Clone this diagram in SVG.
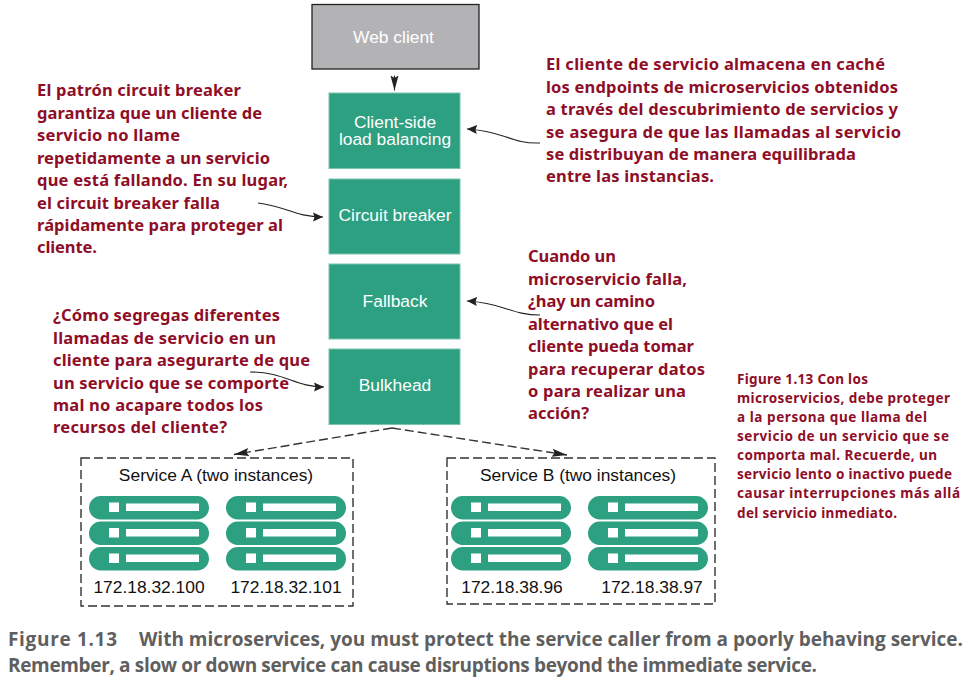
<svg xmlns="http://www.w3.org/2000/svg" xmlns:xlink="http://www.w3.org/1999/xlink" width="967" height="686" viewBox="0 0 967 686">
<style>
.box{fill:#2ca081;stroke:#7cc4ae;stroke-width:1}
.lbl{font-family:"Liberation Sans",Arial,sans-serif;font-size:17.4px;fill:#fff;text-anchor:middle}
.svc{font-family:"Liberation Sans",Arial,sans-serif;font-size:17.4px;fill:#111;text-anchor:middle}
.note{font-family:"Noto Sans",sans-serif;font-weight:700;font-size:16.5px;fill:#8f0e27}
.small{font-family:"Noto Sans",sans-serif;font-weight:700;font-size:13.5px;fill:#8f0e27}
.cap{font-family:"Open Sans",sans-serif;font-weight:700;font-size:19px;fill:#5f5f5f}
.dash{fill:none;stroke:#333;stroke-width:1.4;stroke-dasharray:9 4}
.cur{fill:none;stroke:#222;stroke-width:1.1}
.srv{fill:#2ca081}
.w{fill:#fff}
</style>
<defs>
<marker id="ah" markerUnits="userSpaceOnUse" markerWidth="12" markerHeight="12" refX="10" refY="5" orient="auto"><path d="M0 0.500L10 5L0 9.500L1.500 5Z" fill="#222"/></marker>
<marker id="al" markerUnits="userSpaceOnUse" markerWidth="17" markerHeight="10" refX="15" refY="4.500" orient="auto"><path d="M0 0.500L15 4.500L0 8.500L2.500 4.500Z" fill="#222"/></marker>
<g id="server">
<rect class="srv" x="0" y="0" width="120" height="23.5" rx="11.7"/><rect class="w" x="20" y="6.500" width="10" height="9.500"/><rect class="w" x="37" y="7.500" width="73" height="7.500"/>
<rect class="srv" x="0" y="25.500" width="120" height="23.5" rx="11.7"/><rect class="w" x="20" y="32" width="10" height="9.500"/><rect class="w" x="37" y="33" width="73" height="7.500"/>
<rect class="srv" x="0" y="51" width="120" height="23.500" rx="11.7"/><rect class="w" x="20" y="57.500" width="10" height="9.500"/><rect class="w" x="37" y="58.500" width="73" height="7.500"/>
</g>
</defs>
<g id="connectors">
<path class="cur" d="M394.500 75.500V90.500" marker-end="url(#al)"/>
<path class="cur" d="M540 143C510 144 505 131 467 129" marker-end="url(#ah)"/>
<path class="cur" d="M258 203C285 206 295 217 323 217" marker-end="url(#ah)"/>
<path class="cur" d="M540 315C510 315 505 303 467 301" marker-end="url(#ah)"/>
<path class="cur" d="M250 372C285 372 295 387 324 387" marker-end="url(#ah)"/>
<path class="dash" d="M392 428L234 454.500" marker-end="url(#al)"/>
<path class="dash" d="M392 428L567 455" marker-end="url(#al)"/>
</g>
<g id="web-client"><rect x="312" y="4.500" width="167" height="64.500" fill="#b3b3b5" stroke="#222" stroke-width="1.300"/><text class="lbl" x="393.500" y="43">Web client</text></g>
<g id="client-side-lb"><rect class="box" x="329" y="93" width="131" height="75.500"/><text class="lbl"><tspan x="395" y="128">Client-side</tspan><tspan x="395" y="145">load balancing</tspan></text></g>
<g id="circuit-breaker"><rect class="box" x="329" y="179" width="131" height="75"/><text class="lbl" x="395" y="221">Circuit breaker</text></g>
<g id="fallback"><rect class="box" x="329" y="264" width="131" height="75"/><text class="lbl" x="395" y="307">Fallback</text></g>
<g id="bulkhead"><rect class="box" x="329" y="349" width="131" height="75.500"/><text class="lbl" x="395" y="391">Bulkhead</text></g>
<g id="service-a"><rect class="dash" x="81" y="458" width="272" height="148"/><text class="svc" x="216" y="481">Service A (two instances)</text>
<use xlink:href="#server" href="#server" x="89" y="496"/><use xlink:href="#server" href="#server" x="226" y="496"/>
<text class="svc" x="149" y="593">172.18.32.100</text><text class="svc" x="286" y="593">172.18.32.101</text></g>
<g id="service-b"><rect class="dash" x="447" y="458" width="268" height="146"/><text class="svc" x="578" y="481">Service B (two instances)</text>
<use xlink:href="#server" href="#server" x="451" y="496"/><use xlink:href="#server" href="#server" x="588" y="496"/>
<text class="svc" x="512" y="593">172.18.38.96</text><text class="svc" x="652" y="593">172.18.38.97</text></g>
<g id="note-circuit" class="note">
<text x="37" y="96" textLength="204">El patrón circuit breaker</text>
<text x="37" y="119" textLength="225">garantiza que un cliente de</text>
<text x="37" y="141" textLength="143">servicio no llame</text>
<text x="37" y="164" textLength="233">repetidamente a un servicio</text>
<text x="37" y="186" textLength="251">que está fallando. En su lugar,</text>
<text x="37" y="209" textLength="183">el circuit breaker falla</text>
<text x="37" y="231" textLength="246">rápidamente para proteger al</text>
<text x="37" y="253" textLength="60">cliente.</text>
</g>
<g id="note-bulkhead" class="note">
<text x="53" y="321" textLength="227">¿Cómo segregas diferentes</text>
<text x="53" y="344" textLength="223">llamadas de servicio en un</text>
<text x="53" y="366" textLength="257">cliente para asegurarte de que</text>
<text x="53" y="389" textLength="236">un servicio que se comporte</text>
<text x="53" y="411" textLength="210">mal no acapare todos los</text>
<text x="53" y="433" textLength="174">recursos del cliente?</text>
</g>
<g id="note-lb" class="note">
<text x="546" y="70" textLength="339">El cliente de servicio almacena en caché</text>
<text x="546" y="93" textLength="352">los endpoints de microservicios obtenidos</text>
<text x="546" y="115" textLength="352">a través del descubrimiento de servicios y</text>
<text x="546" y="138" textLength="355">se asegura de que las llamadas al servicio</text>
<text x="546" y="160" textLength="310">se distribuyan de manera equilibrada</text>
<text x="546" y="182" textLength="168">entre las instancias.</text>
</g>
<g id="note-fallback" class="note">
<text x="528" y="262" textLength="88">Cuando un</text>
<text x="528" y="285" textLength="159">microservicio falla,</text>
<text x="528" y="307" textLength="127">¿hay un camino</text>
<text x="528" y="330" textLength="145">alternativo que el</text>
<text x="528" y="352" textLength="166">cliente pueda tomar</text>
<text x="528" y="375" textLength="177">para recuperar datos</text>
<text x="528" y="397" textLength="158">o para realizar una</text>
<text x="528" y="419" textLength="61">acción?</text>
</g>
<g id="note-figure" class="small">
<text x="737" y="384" textLength="131">Figure 1.13 Con los</text>
<text x="737" y="403" textLength="213">microservicios, debe proteger</text>
<text x="737" y="422" textLength="190">a la persona que llama del</text>
<text x="737" y="441" textLength="212">servicio de un servicio que se</text>
<text x="737" y="460" textLength="200">comporta mal. Recuerde, un</text>
<text x="737" y="479" textLength="215">servicio lento o inactivo puede</text>
<text x="737" y="498" textLength="223">causar interrupciones más allá</text>
<text x="737" y="518" textLength="160">del servicio inmediato.</text>
</g>
<g id="caption" class="cap">
<text x="8" y="646" textLength="109">Figure 1.13</text>
<text x="139" y="646" textLength="824">With microservices, you must protect the service caller from a poorly behaving service.</text>
<text x="8" y="672" textLength="809">Remember, a slow or down service can cause disruptions beyond the immediate service.</text>
</g>
</svg>
